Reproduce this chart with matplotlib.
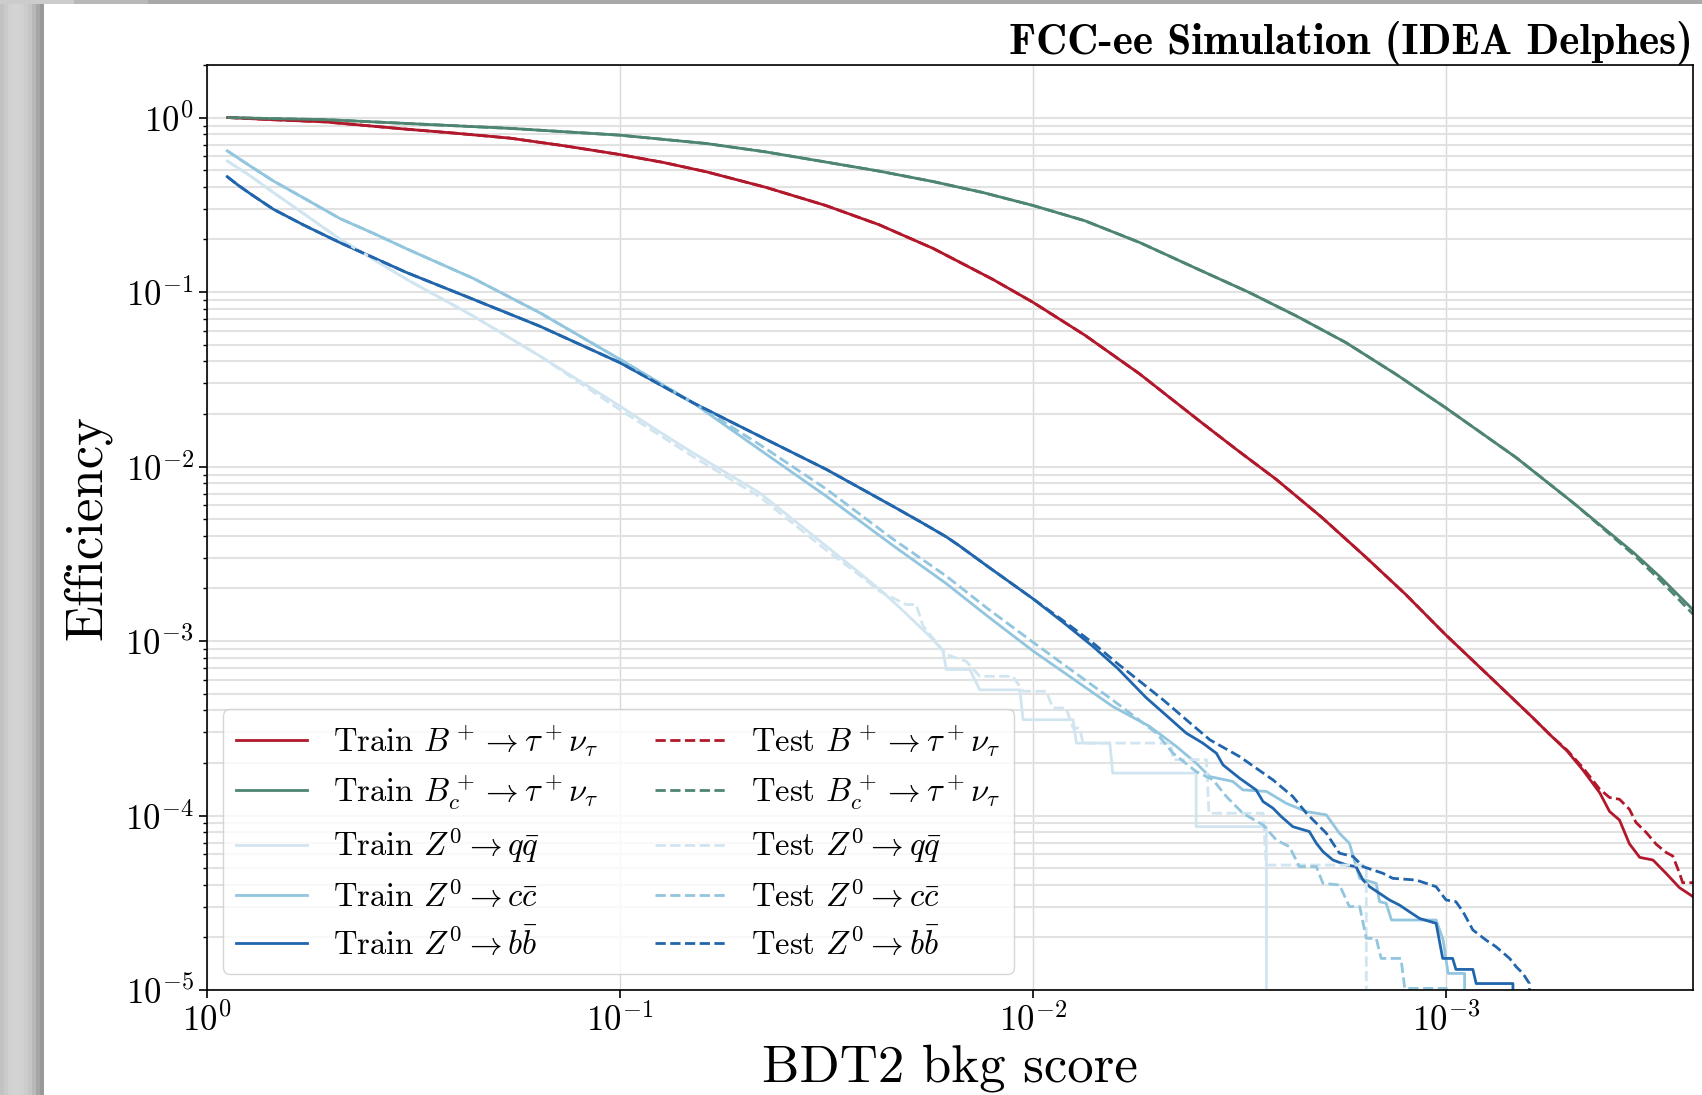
import numpy as np
import matplotlib
matplotlib.use("Agg")
import matplotlib.pyplot as plt

plt.rcParams['font.family'] = 'cmr10'
plt.rcParams['mathtext.fontset'] = 'cm'
plt.rcParams['axes.formatter.use_mathtext'] = True

# values, stored as log10(score) / log10(efficiency)
# -inf means the efficiency drops to zero there
NEG = float('-inf')

bp_train_lx = [-0.050, -0.155, -0.286, -0.484, -0.602, -0.733, -0.865, -0.999, -1.104, -1.209, -1.353, -1.498, -1.627, -1.758, -1.829, -1.903, -2.000, -2.126, -2.258, -2.402, -2.494, -2.589, -2.699, -2.807, -2.901, -2.999, -3.104, -3.209, -3.253, -3.293, -3.331, -3.372, -3.396, -3.420, -3.444, -3.469, -3.501, -3.533, -3.565, -3.598]
bp_train_ly = [0.000, -0.012, -0.025, -0.067, -0.090, -0.118, -0.162, -0.212, -0.257, -0.311, -0.400, -0.504, -0.614, -0.750, -0.837, -0.928, -1.059, -1.248, -1.469, -1.737, -1.905, -2.074, -2.291, -2.522, -2.730, -2.964, -3.200, -3.437, -3.540, -3.630, -3.738, -3.869, -3.977, -4.026, -4.162, -4.240, -4.255, -4.332, -4.413, -4.465]
bp_test_lx = [-0.050, -0.155, -0.286, -0.484, -0.602, -0.733, -0.865, -0.999, -1.104, -1.209, -1.353, -1.498, -1.627, -1.758, -1.829, -1.903, -2.000, -2.126, -2.258, -2.402, -2.494, -2.589, -2.699, -2.807, -2.901, -2.999, -3.104, -3.209, -3.253, -3.293, -3.331, -3.372, -3.396, -3.420, -3.444, -3.460, -3.485, -3.509, -3.533, -3.549, -3.565, -3.573, -3.598]
bp_test_ly = [0.000, -0.012, -0.025, -0.067, -0.090, -0.118, -0.162, -0.212, -0.257, -0.311, -0.400, -0.504, -0.614, -0.750, -0.837, -0.928, -1.059, -1.248, -1.469, -1.737, -1.905, -2.074, -2.291, -2.522, -2.730, -2.964, -3.200, -3.437, -3.540, -3.625, -3.725, -3.849, -3.897, -3.907, -3.964, -4.040, -4.098, -4.165, -4.212, -4.232, -4.328, -4.385, -4.385]

bc_train_lx = [-0.050, -0.155, -0.286, -0.484, -0.733, -0.999, -1.209, -1.353, -1.498, -1.627, -1.758, -1.879, -2.000, -2.126, -2.258, -2.402, -2.523, -2.639, -2.757, -2.878, -2.999, -3.170, -3.309, -3.453, -3.519, -3.598]
bc_train_ly = [0.000, -0.006, -0.012, -0.034, -0.062, -0.101, -0.149, -0.197, -0.255, -0.307, -0.367, -0.430, -0.504, -0.592, -0.716, -0.872, -1.002, -1.139, -1.289, -1.470, -1.663, -1.949, -2.210, -2.491, -2.634, -2.821]
bc_test_lx = [-0.050, -0.155, -0.286, -0.484, -0.733, -0.999, -1.209, -1.353, -1.498, -1.627, -1.758, -1.879, -2.000, -2.126, -2.258, -2.402, -2.523, -2.639, -2.757, -2.878, -2.999, -3.170, -3.309, -3.453, -3.519, -3.598]
bc_test_ly = [0.000, -0.006, -0.012, -0.034, -0.062, -0.101, -0.149, -0.197, -0.255, -0.307, -0.367, -0.430, -0.504, -0.592, -0.716, -0.872, -1.002, -1.139, -1.289, -1.470, -1.663, -1.949, -2.210, -2.503, -2.653, -2.846]

qq_train_lx = [-0.049, -0.102, -0.161, -0.234, -0.322, -0.484, -0.645, -0.806, -1.000, -1.080, -1.177, -1.338, -1.500, -1.580, -1.629, -1.677, -1.750, -1.782, -1.790, -1.847, -1.871, -1.968, -1.976, -2.097, -2.105, -2.186, -2.193, -2.395, -2.395, -2.565, -2.565]
qq_train_ly = [-0.249, -0.330, -0.430, -0.551, -0.697, -0.928, -1.138, -1.367, -1.654, -1.778, -1.922, -2.151, -2.457, -2.610, -2.705, -2.808, -2.973, -3.057, -3.163, -3.163, -3.280, -3.280, -3.451, -3.451, -3.585, -3.585, -3.757, -3.757, -4.064, -4.064, NEG]
qq_test_lx = [-0.049, -0.102, -0.161, -0.234, -0.322, -0.484, -0.645, -0.806, -1.000, -1.177, -1.338, -1.500, -1.580, -1.629, -1.693, -1.717, -1.734, -1.790, -1.838, -1.871, -1.951, -1.976, -2.032, -2.048, -2.080, -2.097, -2.113, -2.121, -2.334, -2.339, -2.420, -2.426, -2.557, -2.565, -2.807, -2.807]
qq_test_ly = [-0.249, -0.330, -0.430, -0.551, -0.697, -0.928, -1.138, -1.367, -1.675, -1.943, -2.173, -2.480, -2.622, -2.715, -2.791, -2.791, -2.915, -3.078, -3.116, -3.202, -3.202, -3.288, -3.288, -3.384, -3.384, -3.499, -3.499, -3.585, -3.585, -3.680, -3.680, -3.987, -3.987, -4.284, -4.284, NEG]

cc_train_lx = [-0.049, -0.102, -0.161, -0.234, -0.322, -0.405, -0.484, -0.645, -0.806, -1.000, -1.177, -1.338, -1.500, -1.661, -1.790, -1.890, -2.000, -2.193, -2.282, -2.347, -2.395, -2.428, -2.484, -2.508, -2.565, -2.613, -2.662, -2.710, -2.742, -2.766, -2.791, -2.831, -2.839, -2.855, -2.868, -2.976, -2.993, -3.005, -3.045, -3.049]
cc_train_ly = [-0.191, -0.274, -0.364, -0.461, -0.579, -0.666, -0.753, -0.922, -1.119, -1.386, -1.635, -1.903, -2.171, -2.453, -2.671, -2.858, -3.057, -3.375, -3.489, -3.604, -3.700, -3.777, -3.805, -3.853, -3.862, -3.930, -3.978, -3.996, -4.102, -4.159, -4.360, -4.389, -4.494, -4.503, -4.599, -4.599, -4.713, -4.905, -4.905, NEG]
cc_test_lx = [-0.049, -0.102, -0.161, -0.234, -0.322, -0.405, -0.484, -0.645, -0.806, -1.000, -1.177, -1.338, -1.500, -1.661, -1.790, -1.890, -2.000, -2.192, -2.299, -2.339, -2.395, -2.436, -2.468, -2.508, -2.557, -2.589, -2.621, -2.645, -2.686, -2.702, -2.742, -2.766, -2.791, -2.807, -2.831, -2.843, -2.891, -2.900, -3.001, -3.001]
cc_test_ly = [-0.191, -0.274, -0.364, -0.461, -0.579, -0.666, -0.753, -0.922, -1.119, -1.386, -1.635, -1.874, -2.130, -2.416, -2.628, -2.814, -3.007, -3.337, -3.528, -3.643, -3.748, -3.796, -3.891, -3.987, -4.054, -4.140, -4.179, -4.293, -4.293, -4.389, -4.398, -4.522, -4.522, -4.704, -4.704, -4.819, -4.819, -4.991, -4.991, NEG]

bb_train_lx = [-0.049, -0.076, -0.108, -0.161, -0.234, -0.322, -0.484, -0.645, -0.806, -1.000, -1.177, -1.338, -1.500, -1.661, -1.732, -1.790, -1.821, -1.890, -2.000, -2.074, -2.145, -2.205, -2.274, -2.322, -2.371, -2.411, -2.444, -2.460, -2.500, -2.540, -2.557, -2.581, -2.601, -2.629, -2.669, -2.686, -2.702, -2.726, -2.758, -2.782, -2.799, -2.815, -2.839, -2.863, -2.887, -2.911, -2.936, -2.976, -2.992, -3.016, -3.024, -3.065, -3.073, -3.162, -3.166]
bb_train_ly = [-0.339, -0.389, -0.442, -0.526, -0.616, -0.717, -0.889, -1.042, -1.196, -1.405, -1.635, -1.826, -2.017, -2.228, -2.323, -2.403, -2.453, -2.572, -2.758, -2.895, -3.031, -3.157, -3.325, -3.425, -3.528, -3.585, -3.643, -3.710, -3.786, -3.853, -3.920, -3.958, -4.006, -4.064, -4.092, -4.159, -4.207, -4.255, -4.283, -4.293, -4.370, -4.408, -4.446, -4.484, -4.513, -4.551, -4.590, -4.618, -4.819, -4.819, -4.882, -4.882, -4.963, -4.963, NEG]
bb_test_lx = [-0.049, -0.076, -0.108, -0.161, -0.234, -0.322, -0.484, -0.645, -0.806, -1.000, -1.177, -1.338, -1.500, -1.661, -1.732, -1.790, -1.821, -1.890, -2.000, -2.074, -2.145, -2.205, -2.315, -2.371, -2.428, -2.500, -2.581, -2.629, -2.662, -2.710, -2.742, -2.775, -2.799, -2.847, -2.871, -2.928, -2.976, -3.000, -3.024, -3.041, -3.065, -3.097, -3.121, -3.154, -3.170, -3.186, -3.202, -3.218]
bb_test_ly = [-0.339, -0.389, -0.442, -0.526, -0.616, -0.717, -0.889, -1.042, -1.196, -1.405, -1.635, -1.826, -2.017, -2.228, -2.323, -2.403, -2.453, -2.572, -2.758, -2.885, -3.011, -3.130, -3.337, -3.451, -3.566, -3.662, -3.796, -3.891, -3.987, -4.101, -4.216, -4.235, -4.293, -4.331, -4.360, -4.370, -4.408, -4.484, -4.494, -4.551, -4.656, -4.714, -4.752, -4.819, -4.867, -4.905, -4.963, NEG]

labels = [r'$B^+ \rightarrow \tau^+\nu_\tau$', r'$B_c^+ \rightarrow \tau^+\nu_\tau$',
          r'$Z^0 \rightarrow q\bar{q}$', r'$Z^0 \rightarrow c\bar{c}$', r'$Z^0 \rightarrow b\bar{b}$']
colors = ['#b2182b', '#4e8571', '#d1e5f0', '#92c5de', '#2166ac']
train = [(bp_train_lx, bp_train_ly), (bc_train_lx, bc_train_ly), (qq_train_lx, qq_train_ly),
         (cc_train_lx, cc_train_ly), (bb_train_lx, bb_train_ly)]
test = [(bp_test_lx, bp_test_ly), (bc_test_lx, bc_test_ly), (qq_test_lx, qq_test_ly),
        (cc_test_lx, cc_test_ly), (bb_test_lx, bb_test_ly)]

fig = plt.figure(figsize=(17.02, 10.95), dpi=100)

# grey screenshot shadow on the left and top
shade = fig.add_axes([0, 0, 44 / 1702, 1])
shade.imshow([[0.76, 0.79, 0.82, 0.83, 0.83, 0.82, 0.80, 0.77, 0.72, 0.65, 0.60]], cmap='gray',
             vmin=0, vmax=1, aspect='auto', extent=[0, 1, 0, 1])
shade.axis('off')
top = fig.add_axes([0, 1 - 4 / 1095, 1, 4 / 1095])
top.axis('off')
top.imshow([[0.80, 0.72, 0.66] + [0.66] * 20], cmap='gray', vmin=0, vmax=1,
           aspect='auto', extent=[0, 1, 0, 1])

ax = fig.add_axes([207 / 1702, 1 - 990 / 1095, (1693 - 207) / 1702, (990 - 65) / 1095])

for (lx, ly), lab, c in zip(train, labels, colors):
    ax.plot(10 ** np.array(lx), 10 ** np.array(ly), color=c, lw=2.0, label='Train ' + lab)
for (lx, ly), lab, c in zip(test, labels, colors):
    ax.plot(10 ** np.array(lx), 10 ** np.array(ly), color=c, lw=2.0, ls='--', label='Test ' + lab)

ax.set_xscale('log')
ax.set_yscale('log', nonpositive='clip')
ax.set_xlim(1, 10 ** -3.598)
ax.set_ylim(1e-5, 2)
ax.xaxis.set_minor_locator(matplotlib.ticker.NullLocator())

ax.grid(True, which='major', axis='x', color='#d8d8d8', lw=1.0)
ax.grid(True, which='both', axis='y', color='#e2e2e2', lw=1.5)
ax.set_axisbelow(True)
ax.tick_params(axis='both', which='major', labelsize=25, length=6, width=1.2)
ax.tick_params(axis='y', which='minor', length=3, width=1.0)
for s in ax.spines.values():
    s.set_linewidth(1.2)

ax.set_xlabel('BDT2 bkg score', fontsize=38, labelpad=4)
ax.set_ylabel('Efficiency', fontsize=38, labelpad=10)
ax.set_title('FCC-ee Simulation (IDEA Delphes)', loc='right', fontsize=31, family='cmb10', pad=6)

ax.legend(ncol=2, fontsize=23.5, loc='lower left', labelspacing=0.42, handlelength=2.15,
          columnspacing=1.75)

fig.savefig('out.png', dpi=100)
